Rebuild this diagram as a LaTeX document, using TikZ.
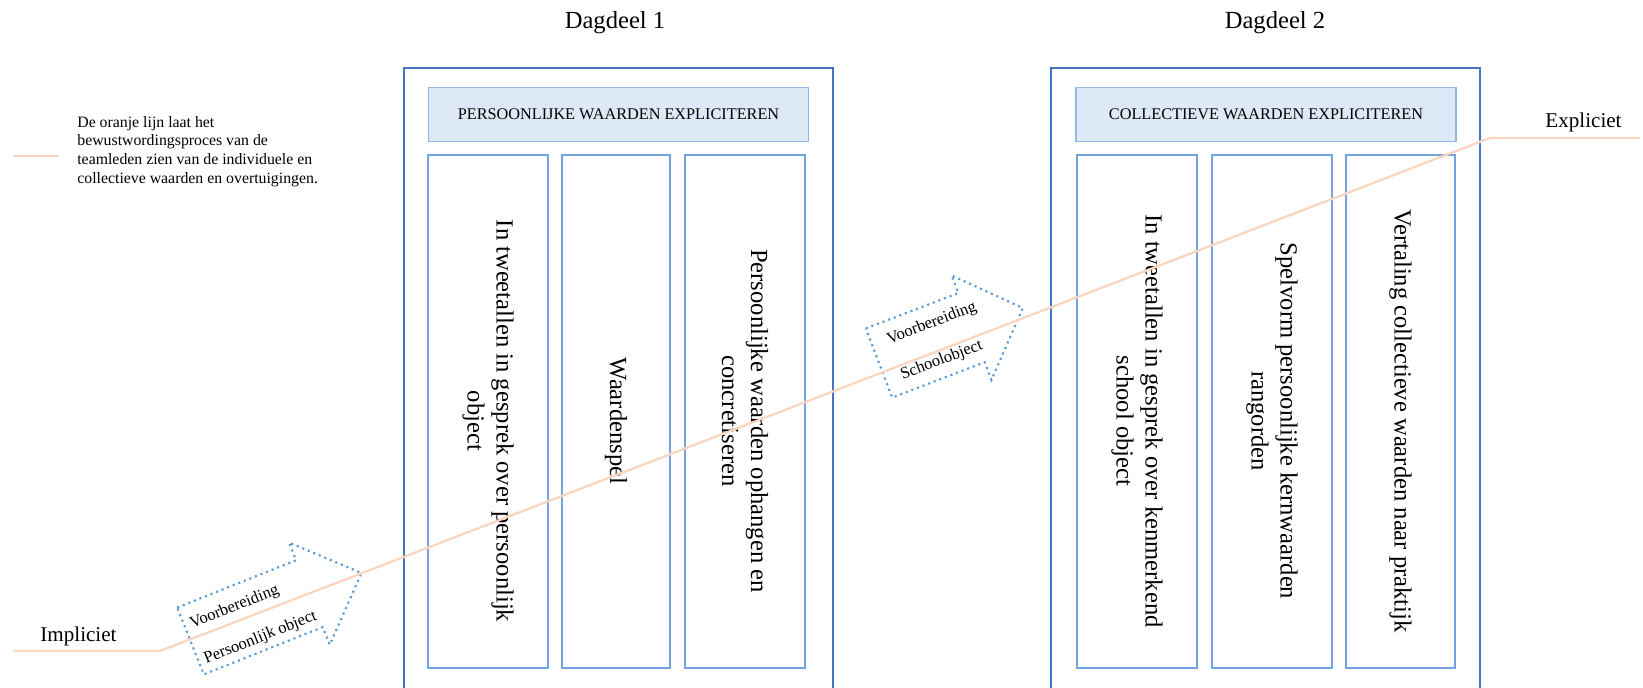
\documentclass[tikz,border=0pt]{standalone}
\usepackage{fontspec}
\setmainfont{Liberation Serif}
\usepackage{tikz}
\definecolor{daggrens}{RGB}{68,114,196}
\definecolor{kopgrens}{RGB}{149,185,229}
\definecolor{kopvul}{RGB}{221,233,246}
\definecolor{kolomgrens}{RGB}{116,163,219}
\definecolor{oranje}{RGB}{250,214,192}
\definecolor{stippel}{RGB}{91,155,213}

\begin{document}
\begin{tikzpicture}[x=0.02cm,y=0.02cm]
      \tikzstyle{dagblok}=[draw=daggrens, line width=0.9pt, minimum width=8.58cm, minimum height=12.6cm]
      \tikzstyle{kop}=[draw=kopgrens, fill=kopvul, line width=1pt, minimum width=7.6cm, minimum height=1.08cm, font=\fontsize{9.25}{11}\selectfont]
      \tikzstyle{kolom}=[draw=kolomgrens, line width=1.1pt, minimum height=10.26cm]
      \tikzstyle{kolomtekst}=[rotate=-90, align=center, inner sep=0pt, font=\fontsize{14}{16.5}\selectfont]
      \tikzstyle{lijn}=[draw=oranje, line width=1.3pt]
      \tikzstyle{pijl}=[draw=stippel, line width=1.2pt, dash pattern=on 1.2pt off 2.2pt]
      \tikzstyle{pijltekst}=[anchor=west, inner sep=0pt, align=left, transform shape, font=\fontsize{9.4}{21.6}\selectfont]

      \useasboundingbox (0,0) rectangle (1643,688);
      \clip (0,0) rectangle (1643,688);

      \node[anchor=base, font=\fontsize{14}{16}\selectfont] (titel1) at (615,659) {Dagdeel 1};
      \node[anchor=base, font=\fontsize{14}{16}\selectfont] (titel2) at (1275,659) {Dagdeel 2};

      \node[dagblok] (dag1) at (618.5,305) {};
      \node[dagblok] (dag2) at (1265.5,305) {};

      \node[kop] (kop1) at (618.5,573.5) {PERSOONLIJKE WAARDEN EXPLICITEREN};
      \node[kop] (kop2) at (1266,573.5) {COLLECTIEVE WAARDEN EXPLICITEREN};

      \node[kolom, minimum width=2.4cm] (k11) at (488,276.5) {};
      \node[kolom, minimum width=2.16cm] (k12) at (616,276.5) {};
      \node[kolom, minimum width=2.4cm] (k13) at (745,276.5) {};
      \node[kolom, minimum width=2.4cm] (k21) at (1137,276.5) {};
      \node[kolom, minimum width=2.4cm] (k22) at (1272,276.5) {};
      \node[kolom, minimum width=2.18cm] (k23) at (1400.5,276.5) {};

      \node[kolomtekst] (t11) at (488,267) {In tweetallen in gesprek over persoonlijk\\object};
      \node[kolomtekst] (t12) at (616,267) {Waardenspel};
      \node[kolomtekst] (t13) at (745,267) {Persoonlijke waarden ophangen en\\concretiseren};
      \node[kolomtekst] (t21) at (1137,267) {In tweetallen in gesprek over kenmerkend\\school object};
      \node[kolomtekst] (t22) at (1272,267) {Spelvorm persoonlijke kernwaarden\\rangorden};
      \node[kolomtekst] (t23) at (1400.5,267) {Vertaling collectieve waarden naar praktijk};

      \begin{scope}[shift={(190.5,47)}, rotate=21.7]
        \draw[pijl] (0,36) -- (128,36) -- (128,55) -- (184,0) -- (128,-55) -- (128,-36) -- (0,-36) -- cycle;
        \node[pijltekst] (voor1) at (6,-4) {Voorbereiding\\Persoonlijk object};
      \end{scope}
      \begin{scope}[shift={(879,325)}, rotate=20.9]
        \draw[pijl] (0,37) -- (99,37) -- (99,56) -- (154,0) -- (99,-56) -- (99,-37) -- (0,-37) -- cycle;
        \node[pijltekst] (voor2) at (16,-1) {Voorbereiding\\Schoolobject};
      \end{scope}

      \node[anchor=north west, inner sep=0pt, align=left, font=\fontsize{9}{10.7}\selectfont] (legenda) at (77,572.3) {De oranje lijn laat het\\bewustwordingsproces van de\\teamleden zien van de individuele en\\collectieve waarden en overtuigingen.};
      \draw[lijn] (13,532) -- (59,532);

      \node[anchor=base, font=\fontsize{12}{14}\selectfont] (impliciet) at (78.5,46) {Impliciet};
      \node[anchor=base, font=\fontsize{12}{14}\selectfont] (expliciet) at (1583.5,560) {Expliciet};

      \coordinate (begin) at (13,37);
      \coordinate (knik1) at (160,37);
      \coordinate (knik2) at (1490,550);
      \coordinate (eind) at (1640,550);
      \draw[lijn] (begin) -- (knik1) -- (knik2) -- (eind);

    \end{tikzpicture}
\end{document}
